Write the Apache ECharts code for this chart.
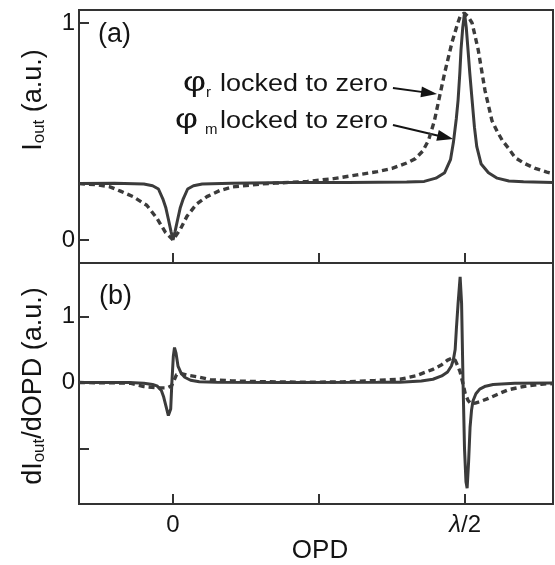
<!DOCTYPE html>
<html>
<head>
<meta charset="utf-8">
<script src="https://cdn.jsdelivr.net/npm/echarts@6/dist/echarts.min.js"></script>
<style>
html,body{margin:0;padding:0;background:#fff;}
#chart{width:555px;height:565px;}
</style>
</head>
<body>
<div id="chart"></div>
<script>
// ---------------- DATA (OPD in units of lambda/2) ----------------
// Panel (a): I_out, phi_m locked to zero (solid)
const xA_solid = [-0.322,-0.2,-0.1,-0.07,-0.05,-0.035,-0.025,-0.015,-0.007,0,0.007,0.015,0.025,0.035,0.05,0.07,0.1,0.2,0.4,0.6,0.8,0.86,0.9,0.93,0.95,0.96,0.97,0.976,0.982,0.986,0.992,0.998,1.004,1.01,1.016,1.024,1.032,1.04,1.055,1.08,1.11,1.15,1.2,1.301];
const yA_solid = [0.26,0.262,0.258,0.25,0.235,0.19,0.15,0.09,0.04,0,0.04,0.09,0.15,0.19,0.235,0.25,0.258,0.262,0.265,0.265,0.267,0.27,0.285,0.31,0.37,0.45,0.56,0.645,0.77,0.876,0.98,1.046,0.98,0.876,0.77,0.645,0.52,0.43,0.35,0.31,0.285,0.272,0.268,0.265];
// Panel (a): I_out, phi_r locked to zero (dashed)
const xA_dash = [-0.322,-0.26,-0.216,-0.18,-0.137,-0.09,-0.055,-0.027,0,0.025,0.048,0.08,0.116,0.16,0.205,0.3,0.35,0.46,0.55,0.63,0.7,0.75,0.8,0.83,0.855,0.875,0.895,0.91,0.93,0.955,0.975,0.983,0.997,1.01,1.024,1.045,1.068,1.092,1.11,1.127,1.15,1.171,1.2,1.24,1.28,1.301];
const yA_dash = [0.26,0.255,0.245,0.225,0.2,0.16,0.1,0.037,0,0.05,0.11,0.165,0.2,0.228,0.245,0.258,0.262,0.27,0.283,0.3,0.315,0.33,0.355,0.375,0.41,0.46,0.55,0.645,0.77,0.91,1.0,1.03,1.046,1.03,1.0,0.876,0.69,0.55,0.5,0.46,0.42,0.38,0.355,0.33,0.313,0.306];
// Panel (b): dI_out/dOPD (solid)
const xB_solid = [-0.322,-0.15,-0.1,-0.07,-0.055,-0.04,-0.032,-0.024,-0.016,-0.012,-0.008,-0.004,0.001,0.005,0.01,0.017,0.028,0.04,0.06,0.09,0.15,0.4,0.7,0.777,0.85,0.89,0.92,0.94,0.953,0.96,0.966,0.97,0.976,0.983,0.988,0.993,0.998,1.003,1.007,1.012,1.017,1.022,1.027,1.037,1.05,1.07,1.096,1.17,1.301];
const yB_solid = [0,0,-0.01,-0.03,-0.05,-0.12,-0.22,-0.36,-0.5,-0.53,-0.4,0,0.4,0.53,0.45,0.25,0.14,0.08,0.035,0.012,0.003,0,0.003,0.005,0.025,0.05,0.1,0.16,0.25,0.35,0.5,0.8,1.2,1.6,1.2,0,-1.0,-1.5,-1.6,-1.2,-0.68,-0.42,-0.28,-0.17,-0.1,-0.055,-0.03,-0.01,-0.005];
// Panel (b): dI_out/dOPD (dashed)
const xB_dash = [-0.322,-0.2,-0.147,-0.1,-0.055,-0.02,-0.005,0.005,0.012,0.024,0.05,0.08,0.127,0.2,0.32,0.45,0.58,0.69,0.777,0.83,0.89,0.92,0.94,0.955,0.966,0.975,0.983,0.993,1.0,1.01,1.02,1.035,1.05,1.08,1.11,1.147,1.2,1.26,1.301];
const yB_dash = [0,-0.005,-0.01,-0.06,-0.08,-0.08,-0.05,0.05,0.12,0.14,0.11,0.09,0.045,0.025,0.012,0.005,0.01,0.03,0.05,0.1,0.2,0.27,0.34,0.37,0.34,0.25,0.16,-0.02,-0.16,-0.27,-0.32,-0.31,-0.29,-0.24,-0.18,-0.11,-0.06,-0.025,-0.015];

// ticks & labels
const xTickValues = [0, 0.5, 1];
const xLabelValues = [0, 1];
const xLabelTexts = ['0', '{it|λ}/2'];
const yA_ticks = [0, 1];
const yA_labels = [0, 1];
const yB_ticks = [-1, 0, 1];
const yB_labels = [0, 1];
const xRange = [-0.322, 1.301];
const yA_range = [-0.106, 1.06];
const yB_range = [-1.84, 1.81];

// annotation arrows (data coords, panel a): [start, end]
const arrowR = [[0.753, 0.70], [0.904, 0.673]];
const arrowM = [[0.753, 0.53], [0.959, 0.465]];

// ---------------- helpers ----------------
const FAMILY = '"Liberation Sans", Arial, Helvetica, sans-serif';
const TXT = '#141414';
const LINE = '#3b3b3b';
const zip = (xs, ys) => xs.map((x, i) => [x, ys[i]]);
const mctx = document.createElement('canvas').getContext('2d');
function tw(text, font) { mctx.font = font; return mctx.measureText(text).width; }
function fontOf(fs, italic) { return (italic ? 'italic ' : '') + fs + 'px ' + FAMILY; }

// pieces laid out along local x with baseline at local y=0
function pieces(parts, x0) {
  let x = x0; const els = [];
  parts.forEach(p => {
    const font = fontOf(p.fs, p.italic);
    const sx = p.sx || 1;
    els.push({type: 'text', x: x, y: (p.dy || 0) - 0.35 * p.fs, scaleX: sx,
      style: {text: p.t, font: font, fill: TXT, textAlign: 'left', textVerticalAlign: 'middle'}});
    x += tw(p.t, font) * sx;
  });
  return els;
}

// annotation texts
const annFs = 23;
const annSx = 168 / tw('locked to zero', fontOf(annFs));
const phiSx = 23 / tw('φ', fontOf(27));
function annLine(sub, phiX, subX, baseY) {
  return [
    {type: 'text', x: phiX, y: baseY - 0.35 * 27, scaleX: phiSx, style: {text: 'φ', font: fontOf(27), fill: TXT, textAlign: 'left', textVerticalAlign: 'middle'}},
    {type: 'text', x: subX, y: baseY + 5 - 0.35 * 15, style: {text: sub, font: fontOf(15), fill: TXT, textAlign: 'left', textVerticalAlign: 'middle'}},
    {type: 'text', x: 388, y: baseY - 0.35 * annFs, scaleX: annSx, style: {text: 'locked to zero', font: fontOf(annFs), fill: TXT, textAlign: 'right', textVerticalAlign: 'middle'}}
  ];
}

const topName = [{t: 'I', fs: 27}, {t: 'out', fs: 17, dy: 2}, {t: ' (a.u.)', fs: 27}];
const botName = [{t: 'dI', fs: 27}, {t: 'out', fs: 17, dy: 2}, {t: '/dOPD (a.u.)', fs: 27}];
function nameLen(parts) { return parts.reduce((s, p) => s + tw(p.t, fontOf(p.fs)), 0); }

const baseGraphics = [
  {type: 'group', x: 43, y: 100 + nameLen(topName) / 2, rotation: Math.PI / 2, children: pieces(topName, 0)},
  {type: 'group', x: 43, y: 386 + nameLen(botName) / 2, rotation: Math.PI / 2, children: pieces(botName, 0)},
  {type: 'text', x: 98, y: 35, style: {text: '(a)', font: fontOf(27), fill: TXT, textAlign: 'left', textVerticalAlign: 'middle'}},
  {type: 'text', x: 99, y: 297, style: {text: '(b)', font: fontOf(27), fill: TXT, textAlign: 'left', textVerticalAlign: 'middle'}}
].concat(annLine('r', 183, 206, 93), annLine('m', 175, 205, 130));

// ---------------- chart ----------------
const chart = echarts.init(document.getElementById('chart'), null, {renderer: 'canvas'});
const gridStyle = {show: true, borderColor: '#333', borderWidth: 2, backgroundColor: 'transparent'};
const tickStyle = {lineStyle: {color: '#333', width: 2}};

function xAxisFor(gi, withLabels) {
  return {
    type: 'value', gridIndex: gi, min: xRange[0], max: xRange[1], position: 'bottom',
    axisLine: {show: false, onZero: false},
    axisTick: Object.assign({show: true, inside: true, length: 10, customValues: xTickValues}, tickStyle),
    axisLabel: withLabels ? {
      show: true, customValues: xLabelValues, margin: 9,
      fontSize: 24, fontFamily: FAMILY, color: TXT,
      formatter: v => xLabelTexts[xLabelValues.indexOf(v)] || '',
      rich: {it: {fontSize: 24, fontFamily: FAMILY, fontStyle: 'italic', color: TXT}}
    } : {show: false},
    splitLine: {show: false},
    name: withLabels ? 'OPD' : '', nameLocation: 'middle', nameGap: 28,
    nameTextStyle: {fontSize: 26, fontFamily: FAMILY, color: TXT, padding: [0, 0, 0, 8]}
  };
}
function yAxisFor(gi, range, ticks, labels) {
  return {
    type: 'value', gridIndex: gi, min: range[0], max: range[1], position: 'left',
    axisLine: {show: false, onZero: false},
    axisTick: Object.assign({show: true, inside: true, length: 10, customValues: ticks}, tickStyle),
    axisLabel: {show: true, customValues: labels, margin: 4, fontSize: 24, fontFamily: FAMILY, color: TXT,
      formatter: v => String(v)},
    splitLine: {show: false}
  };
}

function lineSeries(xi, data, dashed, extra) {
  return Object.assign({
    type: 'line', xAxisIndex: xi, yAxisIndex: xi, data: data,
    showSymbol: false, symbol: 'none', smooth: false, clip: true,
    lineStyle: {color: LINE, width: dashed ? 3.4 : 3, type: dashed ? [6, 4] : 'solid'},
    emphasis: {disabled: true}, silent: true
  }, extra || {});
}

chart.setOption({
  animation: false,
  backgroundColor: '#fff',
  grid: [
    Object.assign({left: 79, top: 10, width: 474, height: 253}, gridStyle),
    Object.assign({left: 79, top: 263, width: 474, height: 248}, gridStyle)
  ],
  xAxis: [xAxisFor(0, false), xAxisFor(1, true)],
  yAxis: [yAxisFor(0, yA_range, yA_ticks, yA_labels), yAxisFor(1, yB_range, yB_ticks, yB_labels)],
  series: [
    lineSeries(0, zip(xA_dash, yA_dash), true, {name: 'φr locked to zero'}),
    lineSeries(0, zip(xA_solid, yA_solid), false, {name: 'φm locked to zero'}),
    lineSeries(1, zip(xB_dash, yB_dash), true),
    lineSeries(1, zip(xB_solid, yB_solid), false)
  ]
});

// arrows: converted from data coordinates of panel (a)
function arrowEls(a) {
  const p0 = chart.convertToPixel({xAxisIndex: 0, yAxisIndex: 0}, a[0]);
  const p1 = chart.convertToPixel({xAxisIndex: 0, yAxisIndex: 0}, a[1]);
  const dx = p1[0] - p0[0], dy = p1[1] - p0[1];
  const L = Math.hypot(dx, dy), ux = dx / L, uy = dy / L;
  const headL = 16, headW = 5.5;
  const bx = p1[0] - ux * headL, by = p1[1] - uy * headL;
  return [
    {type: 'line', shape: {x1: p0[0], y1: p0[1], x2: bx + ux * 2, y2: by + uy * 2}, style: {stroke: TXT, lineWidth: 2}, silent: true},
    {type: 'polygon', shape: {points: [[p1[0], p1[1]], [bx - uy * headW, by + ux * headW], [bx + uy * headW, by - ux * headW]]}, style: {fill: TXT}, silent: true}
  ];
}

chart.setOption({graphic: baseGraphics.concat(arrowEls(arrowR), arrowEls(arrowM))});
</script>
</body>
</html>
